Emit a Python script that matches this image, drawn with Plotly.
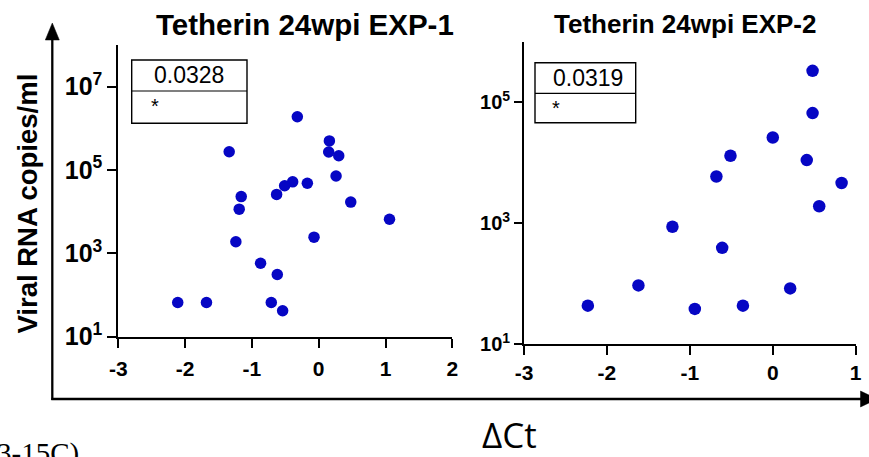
import plotly.graph_objects as go

W, H = 869, 457
OFF = 0  # page body margin removed via post_script

# ---------------- data ----------------
exp1_dct = [-1.34, -0.32, 0.16, 0.15, 0.30, 0.26, -0.17, -0.39, -0.51, -0.63, -1.16,
            -1.19, 0.48, 1.06, -1.24, -0.07, -0.87, -0.62, -2.11, -1.68, -0.71, -0.54]
exp1_copies = [2.75e5, 1.9e6, 5.0e5, 2.7e5, 2.2e5, 7.2e4, 4.8e4, 5.2e4, 4.2e4, 2.6e4, 2.3e4,
               1.15e4, 1.7e4, 6.6e3, 1.9e3, 2.45e3, 580, 310, 66, 66, 66, 42]

exp2_dct = [0.48, 0.48, 0.00, -0.51, 0.41, -0.68, 0.83, 0.56, -1.21, -0.61, -1.62, 0.21,
            -2.23, -0.94, -0.36]
exp2_copies = [3.3e5, 6.6e4, 2.6e4, 1.3e4, 1.1e4, 5.9e3, 4.6e3, 1.9e3, 870, 390, 93, 83,
               43, 38, 43]

titles = ["Tetherin 24wpi EXP-1", "Tetherin 24wpi EXP-2"]
p_values = ["0.0328", "0.0319"]
signif = ["*", "*"]

x1_ticks = [-3, -2, -1, 0, 1, 2]
x1_ticktext = ["-3", "-2", "-1", "0", "1", "2"]
x2_ticks = [-3, -2, -1, 0, 1]
x2_ticktext = ["-3", "-2", "-1", "0", "1"]
y1_tickvals = [1e1, 1e3, 1e5, 1e7]
y1_ticktext = ["10<sup>1</sup>", "10<sup>3</sup>", "10<sup>5</sup>", "10<sup>7</sup>"]
y2_tickvals = [1e1, 1e3, 1e5]
y2_ticktext = ["10<sup>1</sup>", "10<sup>3</sup>", "10<sup>5</sup>"]

y_title = "Viral RNA copies/ml"
x_title = "ΔCt"
caption = "3-15C)"

# ---------------- helpers ----------------
def px(x):
    return (x - OFF) / W

def py(y):
    return (H - (y - OFF)) / H

SANS = "Liberation Sans, Arial, sans-serif"
BLUE = "#0606C4"

fig = go.Figure()
fig.add_trace(go.Scatter(x=exp1_dct, y=exp1_copies, mode="markers", xaxis="x", yaxis="y",
                         marker=dict(color=BLUE, size=11.5), showlegend=False))
fig.add_trace(go.Scatter(x=exp2_dct, y=exp2_copies, mode="markers", xaxis="x2", yaxis="y2",
                         marker=dict(color=BLUE, size=12.5), showlegend=False))

axcommon = dict(showline=True, linecolor="black", ticks="outside", tickcolor="black",
                showgrid=False, zeroline=False, mirror=False, automargin=False)

fig.update_layout(
    width=W, height=H, margin=dict(l=0, r=0, t=0, b=0, pad=0), autosize=False,
    paper_bgcolor="white", plot_bgcolor="white",
    xaxis=dict(domain=[px(118.3), px(452.3)], range=[-3, 2], tickvals=x1_ticks,
               ticktext=x1_ticktext, ticklabelstandoff=3,
               anchor="y", linewidth=2, tickwidth=2, ticklen=9,
               tickfont=dict(family=SANS, size=21, color="black", weight="bold"),
               **axcommon),
    yaxis=dict(domain=[py(336.7), py(45)], type="log", range=[1, 8],
               tickvals=y1_tickvals, ticktext=y1_ticktext, anchor="x",
               linewidth=2, tickwidth=2, ticklen=9,
               tickfont=dict(family=SANS, size=25, color="black", weight="bold"),
               **axcommon),
    xaxis2=dict(domain=[px(524), px(855.7)], range=[-3, 1], tickvals=x2_ticks,
                ticktext=x2_ticktext,
                anchor="y2", linewidth=1.7, tickwidth=1.7, ticklen=9,
                tickfont=dict(family=SANS, size=21, color="black", weight="bold"),
                **axcommon),
    yaxis2=dict(domain=[py(344), py(41.7)], type="log", range=[1, 6],
                tickvals=y2_tickvals, ticktext=y2_ticktext, anchor="x2",
                linewidth=1.7, tickwidth=1.7, ticklen=8,
                tickfont=dict(family=SANS, size=20, color="black", weight="bold"),
                **axcommon),
)

shapes = []
# statistic boxes
for (x0, x1, y0, y1, ym) in [(131.7, 247, 60, 123.3, 91), (535, 635.7, 62.7, 122.7, 93.3)]:
    shapes.append(dict(type="rect", xref="paper", yref="paper", x0=px(x0), x1=px(x1),
                       y0=py(y1), y1=py(y0), line=dict(color="black", width=1.4)))
    shapes.append(dict(type="line", xref="paper", yref="paper", x0=px(x0), x1=px(x1),
                       y0=py(ym), y1=py(ym), line=dict(color="black", width=1.2)))

# outer axes arrows
ax_x, ax_y = 52.3, 399
shapes.append(dict(type="line", xref="paper", yref="paper", x0=px(ax_x), x1=px(ax_x),
                   y0=py(ax_y + 1), y1=py(36), line=dict(color="black", width=2.3)))
shapes.append(dict(type="line", xref="paper", yref="paper", x0=px(ax_x - 1), x1=px(862),
                   y0=py(ax_y), y1=py(ax_y), line=dict(color="black", width=2.3)))
shapes.append(dict(type="path", xref="paper", yref="paper",
                   path=f"M {px(ax_x-7)},{py(40)} L {px(ax_x)},{py(23)} L {px(ax_x+7)},{py(40)} Z",
                   fillcolor="black", line=dict(color="black", width=0.5)))
shapes.append(dict(type="path", xref="paper", yref="paper",
                   path=f"M {px(860.5)},{py(ax_y-8)} L {px(877)},{py(ax_y)} L {px(860.5)},{py(ax_y+8)} Z",
                   fillcolor="black", line=dict(color="black", width=0.5)))
fig.update_layout(shapes=shapes)

ann = []
def text(x, y, s, size, family=SANS, weight="normal", xanchor="center", yanchor="middle", angle=0):
    ann.append(dict(x=px(x), y=py(y), xref="paper", yref="paper", text=s, showarrow=False,
                    xanchor=xanchor, yanchor=yanchor, textangle=angle,
                    font=dict(family=family, size=size, color="black", weight=weight)))

text(305, 25, titles[0], 29.5, weight="bold")
text(685, 24, titles[1], 26, weight="bold")
text(189, 75.5, p_values[0], 23)
text(587.5, 77.5, p_values[1], 23)
text(154.5, 106, signif[0], 20)
text(555.5, 108, signif[1], 20)
text(26.5, 204, y_title, 27.5, weight="bold", angle=-90)
text(509, 434, x_title, 35, family="Open Sans, Noto Sans, sans-serif")
text(81, 435, caption, 29, family="Liberation Serif, Times New Roman, serif",
     xanchor="right", yanchor="top")
fig.update_layout(annotations=ann)

fig.write_html(
    "out.html",
    config={"displayModeBar": False},
    post_script="document.body.style.margin='0';document.body.style.overflow='hidden';",
)
